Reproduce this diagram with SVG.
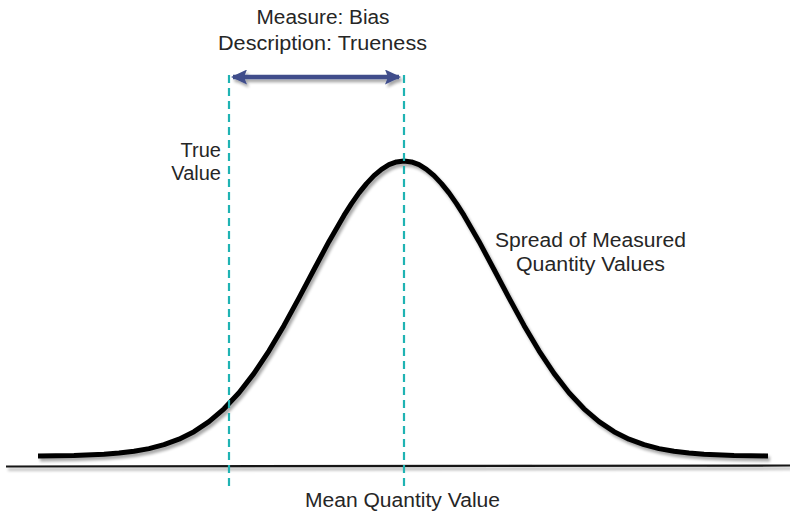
<svg xmlns="http://www.w3.org/2000/svg" width="790" height="513" viewBox="0 0 790 513">
  <defs>
    <filter id="soft-shadow" filterUnits="userSpaceOnUse" x="0" y="0" width="790" height="513">
      <feGaussianBlur in="SourceAlpha" stdDeviation="1.6"/>
      <feOffset dx="2" dy="2.5" result="blur"/>
      <feComponentTransfer><feFuncA type="linear" slope="0.35"/></feComponentTransfer>
      <feMerge><feMergeNode/><feMergeNode in="SourceGraphic"/></feMerge>
    </filter>
    <marker id="head" viewBox="0 0 16 15" refX="14" refY="7.5" markerWidth="16" markerHeight="15" markerUnits="userSpaceOnUse" orient="auto-start-reverse">
      <path d="M0,0 L16,7.5 L0,15 L3,7.5 Z" fill="#3f4e8b"/>
    </marker>
    <style>
      .label { font-family: "Liberation Sans", Arial, sans-serif; font-size: 20px; fill: #262626; }
      .guide { stroke: #1fb3b3; stroke-width: 2.2; stroke-dasharray: 8 5; fill: none; }
      .curve { stroke: #000; stroke-width: 5; fill: none; stroke-linejoin: round; }
      .axis { stroke: #151515; stroke-width: 2.2; fill: none; }
      .span { stroke: #3f4e8b; stroke-width: 4.6; fill: none; }
    </style>
  </defs>
  <rect width="790" height="513" fill="#ffffff"/>

  <!-- horizontal axis -->
  <g id="axis" filter="url(#soft-shadow)">
    <line class="axis" x1="6" y1="466.5" x2="790" y2="465.5"/>
  </g>

  <!-- normal distribution of measured values -->
  <g id="distribution" filter="url(#soft-shadow)">
    <polyline class="curve" points="38,455.9 74,455.4 104,454.2 119,453 134,451.2 149,448.6 164,444.7 179,439.2 194,431.7 209,421.7 224,408.8 239,392.8 254,373.4 269,350.8 284,325.4 299,297.9 314,269.5 329,241.4 344,215.4 351.5,203.6 359,192.9 366.5,183.6 374,175.6 381.5,169.3 389,164.7 396.5,161.9 404,161 411.5,161.9 419,164.7 426.5,169.3 434,175.6 441.5,183.6 449,192.9 456.5,203.6 464,215.4 479,241.4 494,269.5 509,297.9 524,325.4 539,350.8 554,373.4 569,392.8 584,408.8 599,421.7 614,431.7 629,439.2 644,444.7 659,448.6 674,451.2 689,453 704,454.2 734,455.4 768,455.9"/>
  </g>

  <!-- reference guides: true value and mean -->
  <g id="connectors">
    <line class="guide" x1="229" y1="75" x2="229" y2="489"/>
    <line class="guide" x1="404" y1="75" x2="404" y2="489"/>
    <g filter="url(#soft-shadow)">
      <line class="span" x1="233" y1="77" x2="399" y2="77" marker-start="url(#head)" marker-end="url(#head)"/>
    </g>
  </g>

  <g id="bias-label">
    <text class="label" x="323" y="24" text-anchor="middle" textLength="133" lengthAdjust="spacingAndGlyphs">Measure: Bias</text>
    <text class="label" x="322.5" y="49.5" text-anchor="middle" textLength="209" lengthAdjust="spacingAndGlyphs">Description: Trueness</text>
  </g>

  <g id="true-value-label">
    <text class="label" x="221" y="157" text-anchor="end">True</text>
    <text class="label" x="221" y="180" text-anchor="end">Value</text>
  </g>

  <g id="spread-label">
    <text class="label" x="590.5" y="247" text-anchor="middle" textLength="191" lengthAdjust="spacingAndGlyphs">Spread of Measured</text>
    <text class="label" x="590.5" y="271" text-anchor="middle" textLength="149" lengthAdjust="spacingAndGlyphs">Quantity Values</text>
  </g>

  <g id="mean-label">
    <text class="label" x="402.5" y="507" text-anchor="middle" textLength="195" lengthAdjust="spacingAndGlyphs">Mean Quantity Value</text>
  </g>
</svg>
